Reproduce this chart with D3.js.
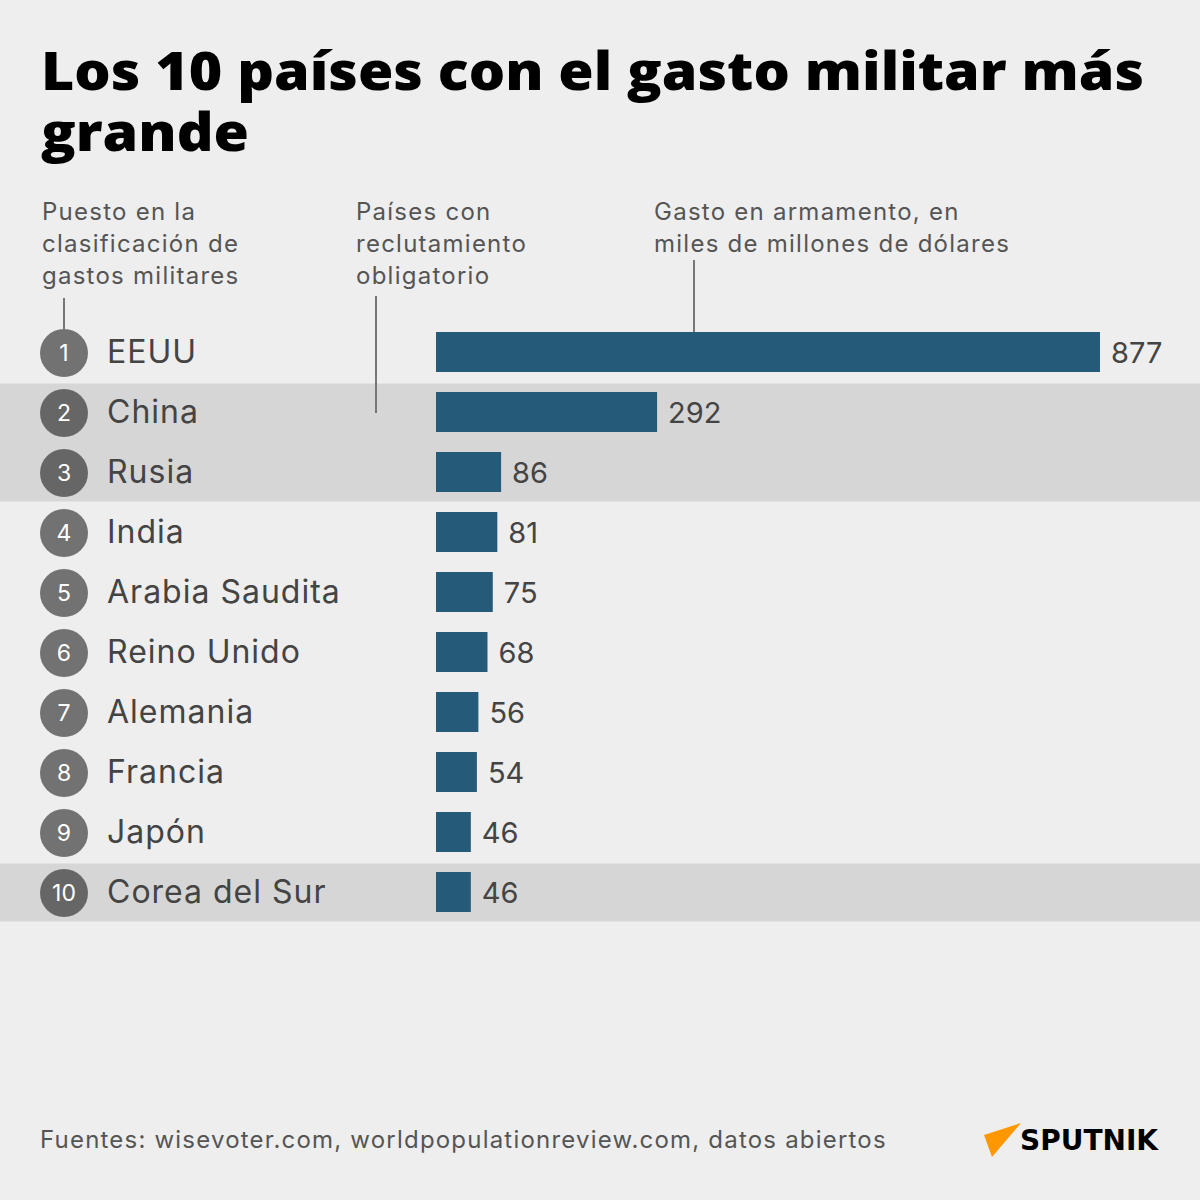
<!DOCTYPE html>
<html>
<head>
<meta charset="utf-8">
<script src="https://cdn.jsdelivr.net/npm/d3@7"></script>
<style>
  html, body { margin: 0; padding: 0; background: #eeeeee; }
  svg { display: block; }
</style>
</head>
<body>
<svg id="chart" width="1200" height="1200"></svg>
<script>
const ranks = [1, 2, 3, 4, 5, 6, 7, 8, 9, 10];
const countries = ["EEUU", "China", "Rusia", "India", "Arabia Saudita", "Reino Unido", "Alemania", "Francia", "Japón", "Corea del Sur"];
const spending = [877, 292, 86, 81, 75, 68, 56, 54, 46, 46];
const conscription = ["China", "Rusia", "Corea del Sur"];

const titleLines = ["Los 10 países con el gasto militar más", "grande"];
const titleWidths = [1103, 208];
const noteRank = ["Puesto en la", "clasificación de", "gastos militares"];
const noteConscription = ["Países con", "reclutamiento", "obligatorio"];
const noteSpending = ["Gasto en armamento, en", "miles de millones de dólares"];
const sourceText = "Fuentes: wisevoter.com, worldpopulationreview.com, datos abiertos";

const data = countries.map((c, i) => ({ country: c, rank: ranks[i], value: spending[i] }));

const svg = d3.select("#chart");
const FONT = "Inter, 'Noto Sans', sans-serif";
const TITLE_FONT = "'Open Sans', 'Noto Sans', sans-serif";

svg.append("rect").attr("width", 1200).attr("height", 1200).attr("fill", "#eeeeee");

// scales
const rowY = d3.scaleBand().domain(countries).range([322, 922]).padding(0);
const barY = d3.scaleBand().domain(countries).range([322, 922]).paddingInner(1/3).paddingOuter(1/6);
const x = d3.scaleLinear().domain([0, 877]).range([436, 1100]);

// highlight bands
svg.append("g").selectAll("rect")
  .data(data.filter(d => conscription.includes(d.country)))
  .join("rect")
  .attr("x", 0)
  .attr("width", 1200)
  .attr("y", d => rowY(d.country) + 1.5)
  .attr("height", rowY.bandwidth() - 2)
  .attr("fill", "#d6d6d6");

svg.append("rect").attr("x", 0).attr("width", 1200)
  .attr("y", rowY("Rusia") - 1).attr("height", 3).attr("fill", "#d6d6d6");

// title (one text element, two lines)
const title = svg.append("text")
  .attr("font-family", TITLE_FONT)
  .attr("font-weight", 800)
  .attr("font-size", 53)
  .attr("fill", "#000");
title.selectAll("tspan")
  .data(titleLines)
  .join("tspan")
  .attr("x", 41)
  .attr("y", (d, i) => 90 + i * 61)
  .attr("textLength", (d, i) => titleWidths[i])
  .attr("lengthAdjust", "spacingAndGlyphs")
  .text(d => d);

// annotation notes
function note(lines, x0) {
  svg.append("g").selectAll("text")
    .data(lines)
    .join("text")
    .attr("x", x0)
    .attr("y", (d, i) => 220 + i * 32)
    .attr("font-family", FONT)
    .attr("font-size", 24)
    .attr("letter-spacing", 1.25)
    .attr("fill", "#555")
    .text(d => d);
}
note(noteRank, 42);
note(noteConscription, 356);
note(noteSpending, 654);

// leader lines
const leaders = [
  { x: 64, y1: 298, y2: 329 },
  { x: 376, y1: 296, y2: 413 },
  { x: 694, y1: 260, y2: 332 }
];
svg.append("g").selectAll("line")
  .data(leaders)
  .join("line")
  .attr("x1", d => d.x).attr("x2", d => d.x)
  .attr("y1", d => d.y1).attr("y2", d => d.y2)
  .attr("stroke", "#777").attr("stroke-width", 2);

// rows
const rows = svg.append("g").selectAll("g")
  .data(data)
  .join("g")
  .attr("transform", d => `translate(0,${rowY(d.country) + rowY.bandwidth() / 2})`);

rows.append("circle")
  .attr("cx", 64)
  .attr("cy", 1)
  .attr("r", 24)
  .attr("fill", "#000")
  .attr("fill-opacity", 0.52);

rows.append("text")
  .attr("x", 64)
  .attr("y", 9)
  .attr("text-anchor", "middle")
  .attr("font-family", FONT)
  .attr("font-size", 23)
  .attr("fill", "#fff")
  .text(d => d.rank);

rows.append("text")
  .attr("x", 107)
  .attr("y", 11)
  .attr("font-family", FONT)
  .attr("font-size", 32)
  .attr("letter-spacing", 1)
  .attr("fill", "#444")
  .text(d => d.country);

// bars
svg.append("g").selectAll("rect")
  .data(data)
  .join("rect")
  .attr("x", x(0))
  .attr("y", d => barY(d.country))
  .attr("width", d => x(d.value) - x(0))
  .attr("height", barY.bandwidth())
  .attr("fill", "#255a78");

svg.append("g").selectAll("text")
  .data(data)
  .join("text")
  .attr("x", d => x(d.value) + 11)
  .attr("y", d => barY(d.country) + barY.bandwidth() / 2 + 11)
  .attr("font-family", FONT)
  .attr("font-size", 29)
  .attr("fill", "#444")
  .text(d => d.value);

// source
svg.append("text")
  .attr("x", 40)
  .attr("y", 1148)
  .attr("font-family", FONT)
  .attr("font-size", 24)
  .attr("letter-spacing", 1.2)
  .attr("fill", "#555")
  .text(sourceText);

// logo
svg.append("path")
  .attr("d", "M984,1135 L1021,1123 L992,1157 Z")
  .attr("fill", "#ff9800");
svg.append("text")
  .attr("x", 1020)
  .attr("y", 1150)
  .attr("font-family", "'DejaVu Sans', sans-serif")
  .attr("font-weight", "bold")
  .attr("font-size", 29)
  .attr("textLength", 138)
  .attr("lengthAdjust", "spacingAndGlyphs")
  .attr("fill", "#000")
  .text("SPUTNIK");
</script>
</body>
</html>
